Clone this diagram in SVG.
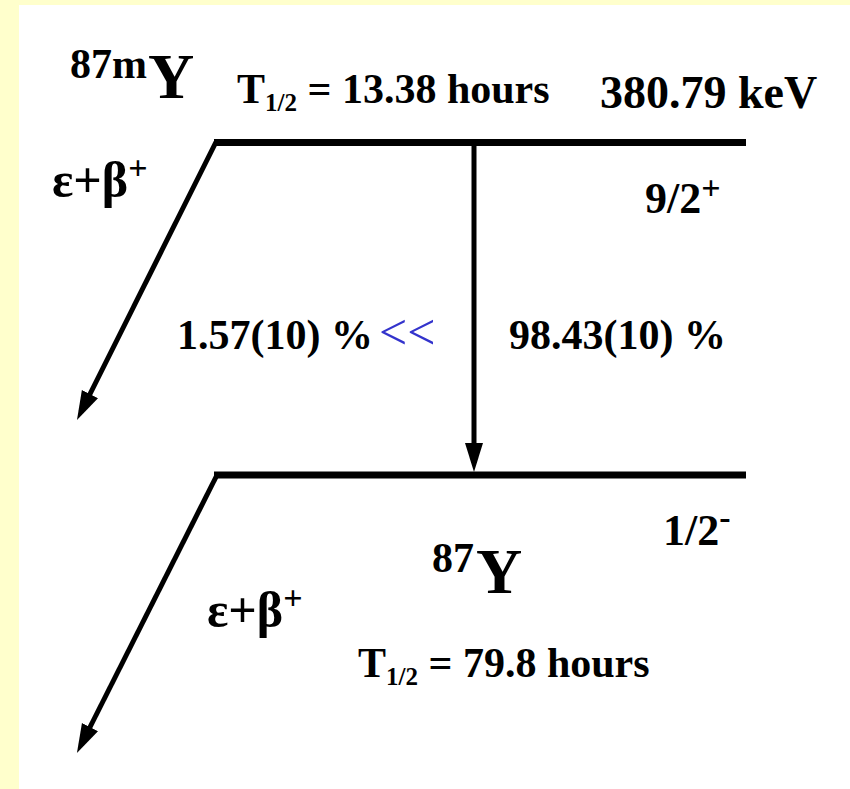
<svg xmlns="http://www.w3.org/2000/svg" width="850" height="789" viewBox="0 0 850 789">
<style>
text{font-family:"Liberation Serif","Times New Roman",serif;font-weight:bold;fill:#000;font-size:42px}
.big{font-size:64px}
.sub{font-size:25px}
.sup{font-size:34px}
.greek{font-size:50px}
.blue{fill:#3333CC;font-weight:normal;font-size:50px}
.lvl{stroke:#000;stroke-width:7;fill:none}
.tr{stroke:#000;stroke-width:5;fill:none}
</style>
<defs>
<marker id="ah" markerUnits="userSpaceOnUse" markerWidth="30" markerHeight="20" refX="20" refY="9" orient="auto">
<path d="M0,0 L29,9 L0,18 z" fill="#000"/>
</marker>
</defs>
<rect x="0" y="0" width="850" height="789" fill="#FFFFCC"/>
<rect x="19" y="5" width="831" height="784" fill="#FFFFFF"/>
<g id="level-387mY">
<line class="lvl" x1="214" y1="142.5" x2="746" y2="142.5"/>
<text x="70" y="78">87m</text>
<text class="big" x="148" y="98">Y</text>
<text x="237" y="103">T<tspan class="sub" dy="8">1/2</tspan><tspan dy="-8"> = 13.38 hours</tspan></text>
<text x="600" y="108" style="font-size:46px">380.79 keV</text>
<text x="645" y="213" style="font-size:44px">9/2<tspan class="sup" dy="-14">+</tspan></text>
</g>
<g id="level-87Y">
<line class="lvl" x1="214" y1="475" x2="746" y2="475"/>
<text x="432" y="572">87</text>
<text class="big" x="476" y="593">Y</text>
<text x="663" y="545" style="font-size:44px">1/2<tspan class="sup" dy="-16">-</tspan></text>
<text x="358" y="677">T<tspan class="sub" dy="8">1/2</tspan><tspan dy="-8"> = 79.8 hours</tspan></text>
</g>
<g id="connectors">
<line class="tr" x1="474" y1="142" x2="474" y2="463" marker-end="url(#ah)"/>
<polyline class="tr" points="216,142 81,412" marker-end="url(#ah)"/>
<polyline class="tr" points="217,475 81,745" marker-end="url(#ah)"/>
</g>
<g id="labels">
<text class="greek" x="52" y="197">ε+β<tspan class="sup" dy="-18">+</tspan></text>
<text x="177" y="349">1.57(10) %</text>
<text class="blue" x="379" y="349">&lt;&lt;</text>
<text x="509" y="349">98.43(10) %</text>
<text class="greek" x="207" y="627">ε+β<tspan class="sup" dy="-18">+</tspan></text>
</g>
</svg>
